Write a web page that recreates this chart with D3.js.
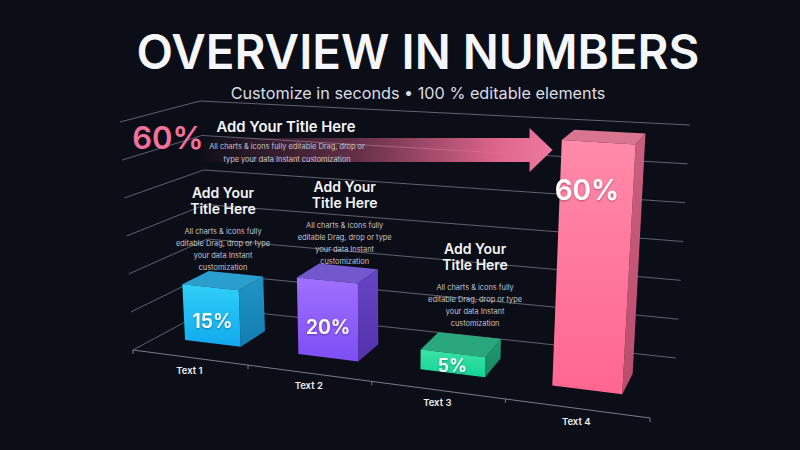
<!DOCTYPE html>
<html lang="en">
<head>
<meta charset="UTF-8">
<title>Overview in Numbers</title>
<script src="https://d3js.org/d3.v7.min.js"></script>
<style>
  html, body { margin: 0; padding: 0; background: #0b0d17; }
  svg { display: block; }
</style>
</head>
<body>
<script>
// chart data
const categories = ["Text 1", "Text 2", "Text 3", "Text 4"];
const values = [15, 20, 5, 60];
const valueLabels = ["15%", "20%", "5%", "60%"];
const gridValues = [0, 10, 20, 30, 40, 50, 60];

// texts
const titleText = "OVERVIEW IN NUMBERS";
const subtitleText = "Customize in seconds \u2022 100 % editable elements";
const noteTitle = ["Add Your", "Title Here"];
const noteBody = ["All charts & icons fully", "editable Drag, drop or type", "your data Instant", "customization"];
const headValue = "60%";
const headTitle = "Add Your Title Here";
const headBody = ["All charts & icons fully editable Drag, drop or", "type your data Instant customization"];

const width = 800, height = 450;

// colours per bar (front gradient, top, side gradient)
const palette = [
  { front: ["#2fd0f8", "#12a9ee"], top: "#2a9ecc", side: ["#1f95c6", "#147cb0"] },
  { front: ["#a070ff", "#7d4ef3"], top: "#7257cd", side: ["#6645c4", "#5432ad"] },
  { front: ["#3ce3a6", "#12d394"], top: "#2aa77c", side: ["#1f9c72", "#178660"] },
  { front: ["#ff8aa9", "#ff6690"], top: "#da7590", side: ["#cc5f7d", "#b94d6c"] }
];

// screen corners of the 3d box (floor / top, front / back)
const box = {
  flb: [133, 350], frb: [650, 418], blb: [211, 308], brb: [676, 358],
  flt: [120, 122], frt: [666, 157], blt: [200, 101], brt: [690, 125]
};
const lerp = (a, b, t) => [a[0] + (b[0] - a[0]) * t, a[1] + (b[1] - a[1]) * t];
function proj(u, v, w) {
  const fb = lerp(box.flb, box.frb, u), bb = lerp(box.blb, box.brb, u);
  const ft = lerp(box.flt, box.frt, u), bt = lerp(box.blt, box.brt, u);
  return lerp(lerp(fb, bb, w), lerp(ft, bt, w), v);
}
// perspective foreshortening along the width
const warpU = t => t / (t + 1.165 * (1 - t));

const xBand = d3.scaleBand().domain(categories).range([0, 1]).paddingInner(0.5).paddingOuter(0.25);
const yLin = d3.scaleLinear().domain([0, 60]).range([0, 1]);
const P = (t, val, w) => proj(warpU(t), yLin(val), w);
const w0 = 0.32, w1 = 0.67; // bar depth

const svg = d3.select("body").append("svg").attr("width", width).attr("height", height);
svg.append("rect").attr("width", width).attr("height", height).attr("fill", "#0b0d17");
const defs = svg.append("defs");

const shadow = defs.append("filter").attr("id", "tshadow").attr("x", "-20%").attr("y", "-20%").attr("width", "140%").attr("height", "140%");
shadow.append("feDropShadow").attr("dx", 0).attr("dy", 1).attr("stdDeviation", 1).attr("flood-color", "#000").attr("flood-opacity", 0.35);

palette.forEach((p, i) => {
  const g = defs.append("linearGradient").attr("id", "front" + i).attr("x1", 0).attr("y1", 0).attr("x2", 0).attr("y2", 1);
  g.append("stop").attr("offset", "0%").attr("stop-color", p.front[0]);
  g.append("stop").attr("offset", "100%").attr("stop-color", p.front[1]);
  const s = defs.append("linearGradient").attr("id", "side" + i).attr("x1", 0).attr("y1", 0).attr("x2", 0).attr("y2", 1);
  s.append("stop").attr("offset", "0%").attr("stop-color", p.side[0]);
  s.append("stop").attr("offset", "100%").attr("stop-color", p.side[1]);
});

const font = "Inter, 'Noto Sans', sans-serif";

// title
const title = svg.append("text").attr("x", 418).attr("y", 52).attr("dy", "0.36em")
  .attr("text-anchor", "middle").attr("fill", "#f5f6fa")
  .style("font-family", font).style("font-weight", 600).style("font-size", "50px")
  .text(titleText);
title.style("font-size", (50 * 563 / title.node().getComputedTextLength()) + "px");

const sub = svg.append("text").attr("x", 418).attr("y", 93).attr("dy", "0.36em")
  .attr("text-anchor", "middle").attr("fill", "#dcdde3")
  .style("font-family", font).style("font-weight", 400).style("font-size", "17px")
  .text(subtitleText);
sub.style("font-size", (17 * 375 / sub.node().getComputedTextLength()) + "px");

// grid lines: left wall and back wall
const line = d3.line();
const grid = svg.append("g").attr("stroke", "#5f626e").attr("stroke-width", 1).attr("fill", "none");
grid.selectAll(".lw").data(gridValues).join("path")
  .attr("d", d => line([P(0, d, 0), P(0, d, 1)]));
grid.selectAll(".bw").data(gridValues).join("path")
  .attr("d", d => line([P(0, d, 1), P(1, d, 1)]));

// floor front axis with ticks
const axisG = svg.append("g").attr("stroke", "#7a7d88").attr("stroke-width", 1).attr("fill", "none");
axisG.append("path").attr("d", line([P(0, 0, 0), P(1, 0, 0)]));
const tickPos = [0].concat(categories.map(c => xBand(c) + xBand.bandwidth() + xBand.step() * xBand.paddingInner() / 2));
tickPos[tickPos.length - 1] = 1;
axisG.selectAll(".tick").data(tickPos).join("path")
  .attr("d", d => { const p = P(d, 0, 0); return line([p, [p[0], p[1] + 4]]); });

svg.append("g").selectAll("text").data(categories).join("text")
  .attr("x", d => P(xBand(d) + xBand.bandwidth() / 2, 0, 0)[0])
  .attr("y", d => P(xBand(d) + xBand.bandwidth() / 2, 0, 0)[1] + 13)
  .attr("dy", "0.35em").attr("text-anchor", "middle").attr("fill", "#eeeff3")
  .style("font-family", font).style("font-weight", 600).style("font-size", "9.5px")
  .text(d => d);

// arrow pointing to the tallest bar
const tallest = d3.maxIndex(values);
const tipX = P(xBand(categories[tallest]), 52, w0)[0] - 8;
const arrowGrad = defs.append("linearGradient").attr("id", "arrowGrad").attr("x1", 0).attr("y1", 0).attr("x2", 1).attr("y2", 0);
arrowGrad.append("stop").attr("offset", "0%").attr("stop-color", "#e8638d").attr("stop-opacity", 0);
arrowGrad.append("stop").attr("offset", "45%").attr("stop-color", "#e8638d").attr("stop-opacity", 0.4);
arrowGrad.append("stop").attr("offset", "85%").attr("stop-color", "#ea6a92").attr("stop-opacity", 0.95);
arrowGrad.append("stop").attr("offset", "100%").attr("stop-color", "#ef7a9e").attr("stop-opacity", 1);
const ax0 = 195, ah = tipX - 23, ay = 150;
svg.append("path")
  .attr("d", line([[ax0, ay - 12], [ah, ay - 12], [ah, ay - 22], [tipX, ay], [ah, ay + 22], [ah, ay + 12], [ax0, ay + 12]]) + "Z")
  .attr("fill", "url(#arrowGrad)");

// headline block
svg.append("text").attr("x", 168).attr("y", 138).attr("dy", "0.36em").attr("text-anchor", "middle")
  .attr("fill", "#f2729b").style("font-family", font).style("font-weight", 600).style("font-size", "31px")
  .text(headValue);
svg.append("text").attr("x", 286).attr("y", 127).attr("dy", "0.36em").attr("text-anchor", "middle")
  .attr("fill", "#f4f5f8").style("font-family", font).style("font-weight", 600).style("font-size", "14.8px")
  .text(headTitle);
svg.append("g").selectAll("text").data(headBody).join("text")
  .attr("x", 287).attr("y", (d, i) => 146 + i * 13.5).attr("dy", "0.35em").attr("text-anchor", "middle")
  .attr("fill", "#c3c5cd").style("font-family", font).style("font-size", "7.4px")
  .text(d => d);

// bars
const bars = svg.append("g").selectAll("g").data(values).join("g");
const faces = (d, i) => {
  const t0 = xBand(categories[i]), t1 = t0 + xBand.bandwidth();
  return {
    front: [P(t0, 0, w0), P(t1, 0, w0), P(t1, d, w0), P(t0, d, w0)],
    side: [P(t1, 0, w0), P(t1, 0, w1), P(t1, d, w1), P(t1, d, w0)],
    top: [P(t0, d, w0), P(t1, d, w0), P(t1, d, w1), P(t0, d, w1)]
  };
};
bars.append("path").attr("d", (d, i) => line(faces(d, i).side) + "Z").attr("fill", (d, i) => `url(#side${i})`);
bars.append("path").attr("d", (d, i) => line(faces(d, i).top) + "Z").attr("fill", (d, i) => palette[i].top);
bars.append("path").attr("d", (d, i) => line(faces(d, i).front) + "Z").attr("fill", (d, i) => `url(#front${i})`);

// value labels on the front faces
bars.append("text")
  .attr("x", (d, i) => P(xBand(categories[i]) + xBand.bandwidth() / 2, 0, w0)[0])
  .attr("y", (d, i) => P(xBand(categories[i]) + xBand.bandwidth() / 2, d > 30 ? d - 11.5 : d * 0.4, w0)[1])
  .attr("dy", "0.36em").attr("text-anchor", "middle").attr("fill", "#ffffff")
  .attr("filter", "url(#tshadow)")
  .style("font-family", font).style("font-weight", 600)
  .style("font-size", d => d > 30 ? "28px" : (d < 10 ? "18px" : "19.5px"))
  .text((d, i) => valueLabels[i]);

// note blocks above the short bars
const noteShift = [0, 7, 14];
const noteDrop = [2, 4, -3];
values.forEach((v, i) => {
  if (i === tallest) return;
  const t0 = xBand(categories[i]), tm = t0 + xBand.bandwidth() / 2;
  const cx = P(tm, v, (w0 + w1) / 2)[0] + noteShift[i];
  const by = P(t0, v, w1)[1] - 6 + noteDrop[i];
  const g = svg.append("g").style("font-family", font).attr("text-anchor", "middle");
  g.selectAll(".nt").data(noteTitle).join("text")
    .attr("x", cx).attr("y", (d, k) => by - 74.5 + k * 16).attr("dy", "0.36em")
    .attr("fill", "#f4f5f8").style("font-weight", 600).style("font-size", "14px")
    .text(d => d);
  g.selectAll(".nb").data(noteBody).join("text")
    .attr("x", cx).attr("y", (d, k) => by - 36 + k * 12).attr("dy", "0.35em")
    .attr("fill", "#c3c5cd").style("font-size", "7.4px")
    .text(d => d);
});
</script>
</body>
</html>
